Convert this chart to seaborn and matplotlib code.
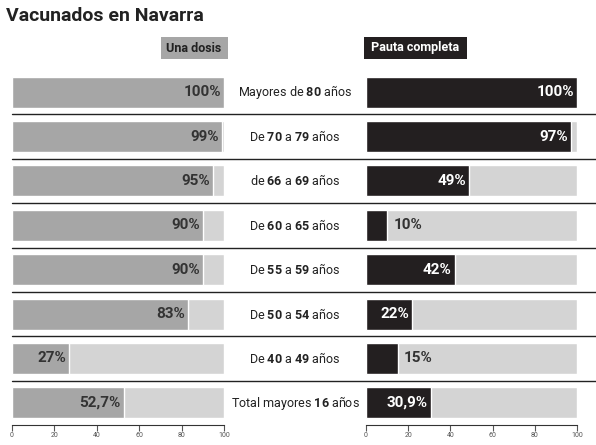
import matplotlib
matplotlib.use("Agg")
import matplotlib.pyplot as plt
import seaborn as sns
import pandas as pd
from matplotlib.lines import Line2D

groups = ["Mayores de $\\mathbf{80}$ años", "De $\\mathbf{70}$ a $\\mathbf{79}$ años",
          "de $\\mathbf{66}$ a $\\mathbf{69}$ años", "De $\\mathbf{60}$ a $\\mathbf{65}$ años",
          "De $\\mathbf{55}$ a $\\mathbf{59}$ años", "De $\\mathbf{50}$ a $\\mathbf{54}$ años",
          "De $\\mathbf{40}$ a $\\mathbf{49}$ años", "Total mayores $\\mathbf{16}$ años"]
una_dosis = [100, 99, 95, 90, 90, 83, 27, 52.7]
pauta_completa = [100, 97, 49, 10, 42, 22, 15, 30.9]
una_labels = ["100%", "99%", "95%", "90%", "90%", "83%", "27%", "52,7%"]
pauta_labels = ["100%", "97%", "49%", "10%", "42%", "22%", "15%", "30,9%"]

sns.set_style("white")
plt.rcParams["font.family"] = ["Roboto", "DejaVu Sans"]
plt.rcParams["mathtext.fontset"] = "custom"
plt.rcParams["mathtext.rm"] = "Roboto"
plt.rcParams["mathtext.bf"] = "Roboto:bold"

W, H = 596, 445
fig = plt.figure(figsize=(W / 100, H / 100), dpi=100)

top_px, bot_px = 70, 425
df = pd.DataFrame({"g": range(len(groups)), "una": una_dosis, "pauta": pauta_completa,
                   "full": [100] * len(groups)})


def make_ax(x0, x1, col, color, labels, white_inside):
    ax = fig.add_axes([x0 / W, 1 - bot_px / H, (x1 - x0) / W, (bot_px - top_px) / H])
    sns.barplot(data=df, x="full", y="g", orient="h", color="#d4d4d4", width=0.7,
                saturation=1, ax=ax)
    sns.barplot(data=df, x=col, y="g", orient="h", color=color, width=0.7,
                saturation=1, ax=ax)
    ax.set_xlim(0, 100)
    ax.set_ylim(len(groups) - 0.5, -0.5)
    for i, v in enumerate(df[col]):
        if v >= 20:
            ax.text(v - 1.5, i, labels[i], ha="right", va="center", fontsize=11,
                    fontweight="bold", color="white" if white_inside else "#333333")
        else:
            ax.text(v + 3, i, labels[i], ha="left", va="center", fontsize=11,
                    fontweight="bold", color="#333333")
    ax.set_xticks(range(0, 101, 20))
    ax.tick_params(axis="x", labelsize=5, length=4, direction="out", bottom=True,
                   colors="#555555", pad=1)
    ax.set_yticks([])
    ax.set_xlabel("")
    ax.set_ylabel("")
    for s in ["top", "right"]:
        ax.spines[s].set_visible(False)
    ax.spines["left"].set_visible(False)
    ax.spines["bottom"].set_color("#333333")
    return ax


make_ax(12, 224, "una", "#a6a6a6", una_labels, False)
make_ax(366, 577, "pauta", "#231f20", pauta_labels, True)

row_h = (bot_px - top_px) / len(groups)
for i, g in enumerate(groups):
    y = top_px + row_h * (i + 0.5)
    fig.text(295 / W, 1 - y / H, g, ha="center", va="center", fontsize=9, color="#222222")
for k in range(1, len(groups)):
    y = 1 - (top_px + row_h * k) / H
    fig.add_artist(Line2D([12 / W, 1], [y, y], color="#222222", lw=1))

fig.text(6 / W, 1 - 16 / H, "Vacunados en Navarra", fontsize=14, fontweight="bold",
         va="center", color="#222222")
fig.text(224 / W, 1 - 48 / H, "Una dosis ", ha="right", va="center", fontsize=9,
         fontweight="bold", color="#222222",
         bbox=dict(facecolor="#a6a6a6", edgecolor="none", boxstyle="square,pad=0.35"))
fig.text(368 / W, 1 - 48 / H, " Pauta completa ", ha="left", va="center", fontsize=9,
         fontweight="bold", color="white",
         bbox=dict(facecolor="#231f20", edgecolor="none", boxstyle="square,pad=0.35"))

fig.savefig("out.png", dpi=100)
